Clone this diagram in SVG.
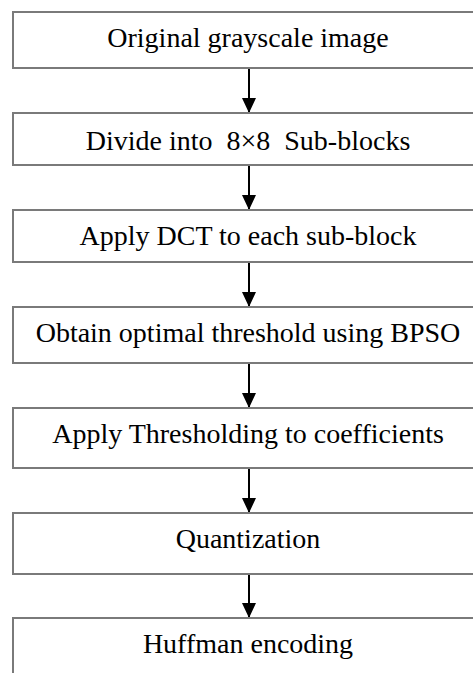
<svg xmlns="http://www.w3.org/2000/svg" width="473" height="673" viewBox="0 0 473 673">
<style>
.box{fill:#fff;stroke:#7a7a7a;stroke-width:2}
.lbl{font-family:"Liberation Serif","Times New Roman",serif;font-size:28px;fill:#000;text-anchor:middle}
.con{stroke:#000;stroke-width:2;fill:none}
</style>
<defs>
<marker id="ah" markerUnits="userSpaceOnUse" markerWidth="16" markerHeight="18" refX="14" refY="8" orient="auto">
<path d="M0,1 L15,8 L0,15 Z" fill="#000"/>
</marker>
</defs>
<rect width="473" height="673" fill="#fff"/>
<g id="connectors">
<line class="con" x1="249" y1="69" x2="249" y2="112" marker-end="url(#ah)"/>
<line class="con" x1="249" y1="166" x2="249" y2="209" marker-end="url(#ah)"/>
<line class="con" x1="249" y1="263" x2="249" y2="306" marker-end="url(#ah)"/>
<line class="con" x1="249" y1="364" x2="249" y2="407" marker-end="url(#ah)"/>
<line class="con" x1="249" y1="469" x2="249" y2="512" marker-end="url(#ah)"/>
<line class="con" x1="249" y1="575" x2="249" y2="617" marker-end="url(#ah)"/>
</g>
<g id="n1"><rect class="box" x="13" y="12" width="470" height="56"/><text class="lbl" x="248" y="47">Original grayscale image</text></g>
<g id="n2"><rect class="box" x="13" y="113" width="470" height="52"/><text class="lbl" x="248" y="150" xml:space="preserve">Divide into  8×8  Sub-blocks</text></g>
<g id="n3"><rect class="box" x="13" y="210" width="470" height="52"/><text class="lbl" x="248" y="245">Apply DCT to each sub-block</text></g>
<g id="n4"><rect class="box" x="13" y="307" width="470" height="56"/><text class="lbl" x="248" y="342">Obtain optimal threshold using BPSO</text></g>
<g id="n5"><rect class="box" x="13" y="408" width="470" height="60"/><text class="lbl" x="248" y="443">Apply Thresholding to coefficients</text></g>
<g id="n6"><rect class="box" x="13" y="513" width="470" height="61"/><text class="lbl" x="248" y="548">Quantization</text></g>
<g id="n7"><rect class="box" x="13" y="618" width="470" height="70"/><text class="lbl" x="248" y="653">Huffman encoding</text></g>
</svg>
